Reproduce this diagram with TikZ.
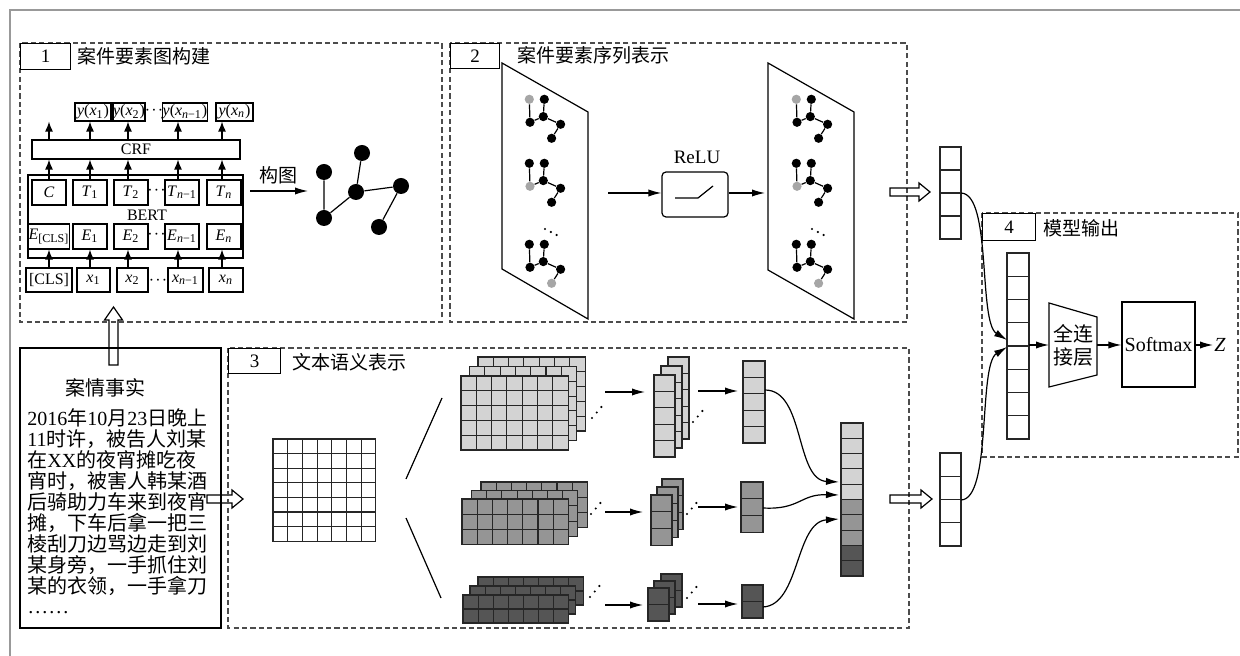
\documentclass[tikz,border=0pt]{standalone}
\usepackage{fontspec}
\setmainfont{Liberation Serif}
\newfontfamily\cjk{Noto Sans CJK SC}
\newfontfamily\latfont{Liberation Serif}
\newcommand\lat[1]{{\latfont #1}}
\newcommand\vi[1]{\textit{#1}}
\newcommand\sbs[1]{\textsubscript{#1}}
\newcommand\cdts{\textperiodcentered\kern0.6pt\textperiodcentered\kern0.6pt\textperiodcentered}
\usetikzlibrary{arrows.meta}

% grid of filled cells: x y ncols nrows cellwidth cellheight fill
\newcommand\cells[7]{%
  \foreach \ci in {1,...,#3}{\foreach \cj in {1,...,#4}{%
    \draw[cell,fill=#7] ({#1+(\ci-1)*#5},{#2+(\cj-1)*#6}) rectangle ++(#5,#6);}}}

% three rising dots starting at x y
\newcommand\risedots[2]{%
  \foreach \q in {0,1,2} \fill ({#1+\q*4.7},{#2-\q*5.5}) circle (0.6pt);}
% three falling dots starting at x y
\newcommand\falldots[2]{%
  \foreach \q in {0,1,2} \fill ({#1+\q*5.8},{#2+\q*3}) circle (0.6pt);}

% hollow block arrows
\newcommand\hollowright[3]{% x-start x-tip y
  \draw[hollow] (#1,{#3-4}) -- ({#2-11},{#3-4}) -- ({#2-11},{#3-9}) -- (#2,#3)
    -- ({#2-11},{#3+9}) -- ({#2-11},{#3+4}) -- (#1,{#3+4}) -- cycle;}
\newcommand\hollowup[3]{% x y-start y-tip
  \draw[hollow] ({#1-4.5},#2) -- ({#1-4.5},{#3+13}) -- ({#1-9},{#3+13}) -- (#1,#3)
    -- ({#1+9},{#3+13}) -- ({#1+4.5},{#3+13}) -- ({#1+4.5},#2) -- cycle;}

% small element graph: x y prefix style-a style-d style-f
\newcommand\minigraph[6]{%
  \begin{scope}[shift={(#1,#2)}]
    \node[#4] (#3a) at (0,0) {};
    \node[sn] (#3b) at (15,0) {};
    \node[sn] (#3c) at (14,17.3) {};
    \node[#5] (#3d) at (0.7,23) {};
    \node[sn] (#3e) at (31.3,25) {};
    \node[#6] (#3f) at (22.3,39) {};
    \draw[gedge] (#3a)--(#3d) (#3b)--(#3c) (#3d)--(#3c) (#3c)--(#3e) (#3e)--(#3f);
  \end{scope}}

\definecolor{lightc}{HTML}{D3D3D3}
\definecolor{midc}{HTML}{959595}
\definecolor{darkc}{HTML}{555555}

\begin{document}
\begin{tikzpicture}[x=0.5pt,y=-0.5pt,
  dashbox/.style={draw=black!70, line width=0.55pt, dash pattern=on 2.6pt off 1.6pt},
  lbl/.style={draw, line width=0.55pt, inner sep=0pt, font=\fontsize{9.5}{10}\selectfont},
  ttl/.style={anchor=west, inner sep=0pt, font=\cjk\fontsize{9.5}{10}\selectfont},
  bb/.style={draw, line width=0.6pt, inner sep=0pt, font=\fontsize{8}{9}\selectfont},
  plain/.style={inner sep=0pt, font=\fontsize{8}{9}\selectfont},
  sarr/.style={line width=0.6pt, -{Latex[length=5pt,width=4pt]}},
  arr/.style={line width=0.6pt, -{Latex[length=6.5pt,width=3.6pt]}},
  gnode/.style={circle, fill=black, inner sep=0pt, minimum size=8pt},
  gedge/.style={line width=0.6pt},
  sn/.style={circle, fill=black, inner sep=0pt, minimum size=4.6pt},
  sng/.style={sn, fill=black!35},
  cell/.style={draw=black!85, line width=0.55pt},
  hollow/.style={draw, line width=0.6pt},
  fact/.style={anchor=base west, inner sep=0pt, font=\cjk\fontsize{10}{10}\selectfont},
]
\useasboundingbox (0,0) rectangle (1240,656);

% outer frame
\draw[black!40, line width=0.6pt] (10,656) -- (10,10) -- (1240,10);

% ---------------- section 1 ----------------
\draw[dashbox] (20,43) rectangle (442,322);
\node[lbl, minimum width=25pt, minimum height=13pt, anchor=north west] (n1) at (20,43) {1};
\node[ttl] (t1) at (77,56) {案件要素图构建};

\coordinate (k1) at (49,0);
\coordinate (k2) at (90,0);
\coordinate (k3) at (128,0);
\coordinate (k4) at (178,0);
\coordinate (k5) at (222,0);

% outputs
\node[bb, minimum width=18pt, minimum height=9pt] (yx1) at (93,112) {\vi{y}(\vi{x}\sbs{1})};
\node[bb, minimum width=16pt, minimum height=9pt] (yx2) at (129,112) {\vi{y}(\vi{x}\sbs{2})};
\node[plain] (yd) at (154,112) {\cdts};
\node[bb, minimum width=22pt, minimum height=9pt] (yxm) at (185,112) {\vi{y}(\vi{x}\sbs{\vi{n}−1})};
\node[bb, minimum width=18.5pt, minimum height=9pt] (yxn) at (234.5,112) {\vi{y}(\vi{x}\sbs{\vi{n}})};

\node[bb, minimum width=104pt, minimum height=9.5pt] (crf) at (136,149.5) {CRF};
\node[bb, minimum width=107.5pt, minimum height=41.5pt] (bert) at (135.5,216.5) {};
\node[plain] (bertl) at (147,215) {BERT};

\foreach \nm/\xx/\tx in {C/49/\vi{C}, T1/90/\vi{T}\sbs{1}, T2/131/\vi{T}\sbs{2}, Tm/182/\vi{T}\sbs{\vi{n}−1}, Tn/224/\vi{T}\sbs{\vi{n}}}
  \node[bb, minimum width=17pt, minimum height=12.5pt] (\nm) at (\xx,192.5) {\tx};
\node[plain] (td) at (156.5,192.5) {\cdts};
\foreach \nm/\xx/\tx in {Ec/49/\vi{E}\sbs{[CLS]}, E1/90/\vi{E}\sbs{1}, E2/131/\vi{E}\sbs{2}, Em/182/\vi{E}\sbs{\vi{n}−1}, En/224/\vi{E}\sbs{\vi{n}}}
  \node[bb, minimum width=17pt, minimum height=12.5pt] (\nm) at (\xx,236.5) {\tx};
\node[plain] (ed) at (156.5,236.5) {\cdts};

\node[bb, minimum width=23pt, minimum height=12pt] (cls) at (49,280) {[CLS]};
\node[bb, minimum width=16.5pt, minimum height=12pt] (x1) at (93.5,280) {\vi{x}\sbs{1}};
\node[bb, minimum width=15.5pt, minimum height=12pt] (x2) at (132.5,280) {\vi{x}\sbs{2}};
\node[plain] (xd) at (158,282) {\cdts};
\node[bb, minimum width=17.5pt, minimum height=12pt] (xm) at (185.5,280) {\vi{x}\sbs{\vi{n}−1}};
\node[bb, minimum width=17pt, minimum height=12pt] (xn) at (226,280) {\vi{x}\sbs{\vi{n}}};

\foreach \kk/\lo/\hi in {k1/cls/Ec, k2/x1/E1, k3/x2/E2, k4/xm/Em, k5/xn/En}
  \draw[sarr] (\kk|-\lo.north) -- (\kk|-\hi.south);
\foreach \kk/\lo in {k1/C, k2/T1, k3/T2, k4/Tm, k5/Tn}
  \draw[sarr] (\kk|-\lo.north) -- (\kk|-crf.south);
\foreach \kk/\hi in {k1/yx1, k2/yx1, k3/yx2, k4/yxm, k5/yxn}
  \draw[sarr] (\kk|-crf.north) -- (\kk|-\hi.south);

% graph construction
\coordinate (g0) at (250,191);
\coordinate (g1) at (308,191);
\draw[arr] (g0) -- (g1);
\node[ttl, anchor=center] (gl) at (278,175) {构图};
\node[gnode] (gA) at (324,172) {};
\node[gnode] (gB) at (362,153) {};
\node[gnode] (gC) at (356,192) {};
\node[gnode] (gD) at (324,218) {};
\node[gnode] (gE) at (401,186) {};
\node[gnode] (gF) at (379,227) {};
\draw[gedge] (gA)--(gD) (gD)--(gC) (gC)--(gB) (gC)--(gE) (gE)--(gF);

% ---------------- section 2 ----------------
\draw[dashbox] (450,43) rectangle (907,322);
\node[lbl, minimum width=24.5pt, minimum height=12.5pt, anchor=north west] (n2) at (450,43) {2};
\node[ttl] (t2) at (517,55) {案件要素序列表示};

\draw[line width=0.6pt] (502,63) -- (588,112) -- (588,319) -- (502,269) -- cycle;
\draw[line width=0.6pt] (768,63) -- (854,112) -- (854,319) -- (768,270) -- cycle;

\minigraph{529.3}{99.3}{La}{sng}{sn}{sn}
\minigraph{529.3}{163.3}{Lb}{sn}{sng}{sn}
\minigraph{529.3}{244.3}{Lc}{sn}{sn}{sng}
\falldots{545}{229}
\minigraph{796.3}{99.3}{Ra}{sng}{sn}{sn}
\minigraph{796.3}{163.3}{Rb}{sn}{sng}{sn}
\minigraph{796.3}{244.3}{Rc}{sn}{sn}{sng}
\falldots{812}{229}

\node[draw, rounded corners=2pt, line width=0.6pt, minimum width=33pt, minimum height=22.5pt] (relu) at (695,194.5) {};
\draw[line width=0.6pt] (675,198) -- (698,198) -- (713,186);
\node[inner sep=0pt, font=\fontsize{9.5}{10}\selectfont] (relul) at (697,157) {ReLU};
\coordinate (p1) at (608,193);
\coordinate (p2) at (765,193);
\draw[arr] (p1) -- (relu.west|-p1);
\draw[arr] (relu.east|-p1) -- (p2);

% ---------------- case facts ----------------
\draw[line width=0.6pt] (20,348) rectangle (221,628);
\node[inner sep=0pt, font=\cjk\fontsize{10}{10}\selectfont] (fh) at (105,388) {案情事实};
\node[fact] (f1) at (27,425.5) {\lat{2016}年\lat{10}月\lat{23}日晚上};
\node[fact] (f2) at (27,446.5) {\lat{11}时许，被告人刘某};
\node[fact] (f3) at (27,467.5) {在\lat{XX}的夜宵摊吃夜};
\node[fact] (f4) at (27,488.5) {宵时，被害人韩某酒};
\node[fact] (f5) at (27,509.5) {后骑助力车来到夜宵};
\node[fact] (f6) at (27,530.5) {摊，下车后拿一把三};
\node[fact] (f7) at (27,551.5) {棱刮刀边骂边走到刘};
\node[fact] (f8) at (27,572.5) {某身旁，一手抓住刘};
\node[fact] (f9) at (27,593.5) {某的衣领，一手拿刀};
\node[fact] (f10) at (28,613.5) {\lat{.\kern1pt.\kern1pt.\kern1pt.\kern1pt.\kern1pt.}};

\hollowup{113.5}{365}{307}
\hollowright{207}{243}{499}

% ---------------- section 3 ----------------
\draw[dashbox] (228,348) rectangle (909,628);
\node[lbl, minimum width=26pt, minimum height=12.5pt, anchor=north west] (n3) at (228,348) {3};
\node[ttl] (t3) at (292,362) {文本语义表示};

\cells{273}{439}{7}{7}{14.7}{14.6}{white}
\coordinate (fan0) at (406,479);
\coordinate (fan1) at (442,398);
\coordinate (fan2) at (406,518);
\coordinate (fan3) at (441,598);
\draw[line width=0.6pt] (fan0) -- (fan1) (fan2) -- (fan3);

% light branch
\cells{478}{357}{7}{5}{15.3}{14.8}{lightc}
\cells{469.5}{366.5}{7}{5}{15.3}{14.8}{lightc}
\cells{461}{376}{7}{5}{15.3}{14.8}{lightc}
\risedots{592}{418}
\cells{668}{357}{1}{5}{21}{16.4}{lightc}
\cells{661}{366}{1}{5}{21}{16.4}{lightc}
\cells{654}{375}{1}{5}{21}{16.4}{lightc}
\risedots{693}{422}
\cells{743}{361}{1}{5}{22}{16.4}{lightc}
\coordinate (a1) at (605,392); \coordinate (a2) at (645,392);
\coordinate (a3) at (698,391); \coordinate (a4) at (738,391);
\draw[arr] (a1) -- (a2);
\draw[arr] (a3) -- (a4);

% medium branch
\cells{481}{482}{7}{3}{15.2}{15.3}{midc}
\cells{471.5}{490.5}{7}{3}{15.2}{15.3}{midc}
\cells{462}{499}{7}{3}{15.2}{15.3}{midc}
\risedots{591}{514}
\cells{662}{479}{1}{3}{21}{16.7}{midc}
\cells{657}{487}{1}{3}{21}{16.7}{midc}
\cells{651}{495}{1}{3}{21}{16.7}{midc}
\risedots{687}{514}
\cells{741}{482}{1}{3}{22}{16.7}{midc}
\coordinate (b1) at (605,512); \coordinate (b2) at (643,512);
\coordinate (b3) at (698,507); \coordinate (b4) at (738,507);
\draw[arr] (b1) -- (b2);
\draw[arr] (b3) -- (b4);

% dark branch
\cells{478}{577}{7}{2}{15.1}{14}{darkc}
\cells{470}{586}{7}{2}{15.1}{14}{darkc}
\cells{463}{595}{7}{2}{15.1}{14}{darkc}
\risedots{590}{597}
\cells{661}{574}{1}{2}{21}{16.5}{darkc}
\cells{654}{581}{1}{2}{21}{16.5}{darkc}
\cells{648}{588}{1}{2}{21}{16.5}{darkc}
\risedots{687}{598}
\cells{742}{585}{1}{2}{21}{16.5}{darkc}
\coordinate (c1) at (605,605); \coordinate (c2) at (643,605);
\coordinate (c3) at (698,604); \coordinate (c4) at (738,604);
\draw[arr] (c1) -- (c2);
\draw[arr] (c3) -- (c4);

% concatenated vector
\cells{841}{423}{1}{5}{22}{15.3}{lightc}
\cells{841}{499.5}{1}{3}{22}{15.3}{midc}
\cells{841}{545.4}{1}{2}{22}{15.3}{darkc}
\coordinate (v1) at (765,390); \coordinate (w1) at (839,482);
\coordinate (v2) at (763,508); \coordinate (w2) at (839,495);
\coordinate (v3) at (763,607); \coordinate (w3) at (839,519);
\draw[arr] (v1) .. controls (805,390) and (795,480) .. (w1);
\draw[arr] (v2) .. controls (800,510) and (800,494) .. (w2);
\draw[arr] (v3) .. controls (800,605) and (795,522) .. (w3);

\hollowright{890}{930}{192}
\hollowright{890}{932}{499}

% ---------------- section 4 ----------------
\cells{940}{147}{1}{4}{21}{23}{white}
\cells{940}{453}{1}{4}{21}{23.25}{white}

\draw[dashbox] (982,213) rectangle (1238,457);
\node[lbl, minimum width=26.5pt, minimum height=13.5pt, anchor=north west] (n4) at (982,213) {4};
\node[ttl] (t4) at (1043,228) {模型输出};

\cells{1007}{253}{1}{8}{22}{23.25}{white}
\coordinate (u1) at (961,193); \coordinate (u2) at (1007,340);
\coordinate (l1) at (961,500); \coordinate (l2) at (1007,347);
\draw[arr] (u1) .. controls (992,194) and (978,322) .. (u2);
\draw[arr] (l1) .. controls (992,499) and (978,365) .. (l2);

\draw[line width=0.6pt] (1049,303) -- (1097,317) -- (1097,375) -- (1049,387) -- cycle;
\node[inner sep=0pt, align=center, font=\cjk\fontsize{10}{11.5}\selectfont] (fc) at (1073,345) {全连\\接层};
\coordinate (cv) at (1029,345);
\coordinate (fcl) at (1049,345);
\coordinate (fcr) at (1097,345);
\node[draw, line width=0.6pt, minimum width=36.5pt, minimum height=42.5pt, inner sep=0pt,
      font=\fontsize{10}{10}\selectfont] (soft) at (1158.5,344.5) {Softmax};
\node[inner sep=0.5pt, anchor=west, font=\fontsize{10}{10}\selectfont] (z) at (1213,345) {\textit{Z}};
\draw[arr] (cv) -- (fcl);
\draw[arr] (fcr) -- (soft.west|-fcr);
\draw[arr] (soft.east|-fcr) -- (z.west);

\end{tikzpicture}
\end{document}
